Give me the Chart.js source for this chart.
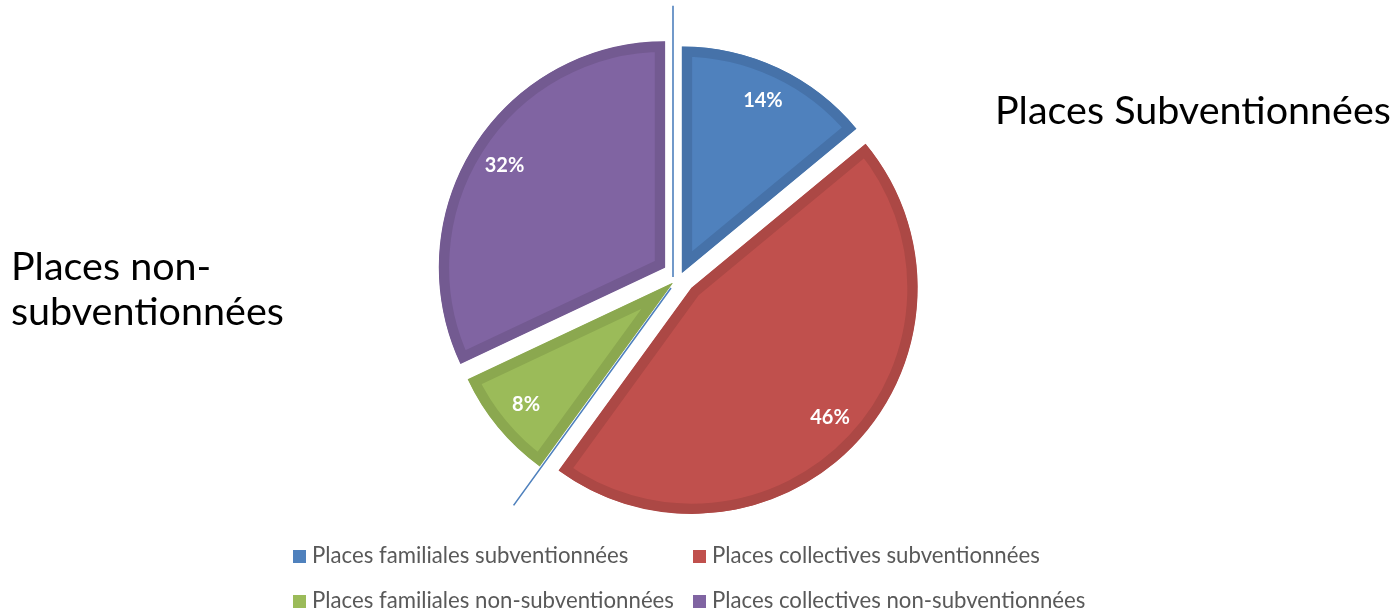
<!DOCTYPE html>
<html>
<head>
<meta charset="utf-8">
<script src="https://cdn.jsdelivr.net/npm/chart.js@4.4.0/dist/chart.umd.min.js"></script>
<style>
    body { margin: 0; background: #fff; font-family: Lato, sans-serif; }
    #wrap { position: relative; width: 1396px; height: 613px; overflow: hidden; }
    #paymentChart { position: absolute; left: 0; top: 0; }
    .side { position: absolute; color: #000; font-size: 39.5px; line-height: 45px; }
    #legend { position: absolute; left: 293px; top: 540px; display: grid; grid-template-columns: 400px 400px; row-gap: 15px; }
    #legend div { font-size: 22.2px; color: #595959; height: 30px; line-height: 30px; white-space: nowrap; }
    #legend span { display: inline-block; width: 13px; height: 13px; margin-right: 6px; vertical-align: 0px; }
</style>
</head>
<body>
<div id="wrap">
    <canvas id="paymentChart" width="1396" height="613"></canvas>
    <div class="side" style="left: 995px; top: 86px;">Places Subventionnées</div>
    <div class="side" style="left: 11px; top: 242px;">Places non-<br>subventionnées</div>
    <div id="legend"></div>
</div>
<script>
var labels = ['Places familiales subventionnées', 'Places collectives subventionnées',
    'Places familiales non-subventionnées', 'Places collectives non-subventionnées'];
var values = [14, 46, 8, 32];
var fillColors = ['#4F81BD', '#C0504D', '#9BBB59', '#8064A2'];
var edgeColors = ['#4672A9', '#AC4845', '#8BA84F', '#735A91'];
var sliceShift = [5, 16, 10, 18]; // how far each slice is pulled out, px

// legend built by hand so the two columns line up
var legendHtml = '';
for (var i = 0; i < labels.length; i++) {
    legendHtml += '<div><span style="background:' + fillColors[i] + '"></span>' + labels[i] + '</div>';
}
document.getElementById('legend').innerHTML = legendHtml;

// pull slices out without chart.js growing their radius (its offset option does)
var explode = {
    id: 'explode',
    afterUpdate: function (chart) {
        var arcs = chart.getDatasetMeta(0).data;
        chart.$pieCenter = { x: arcs[0].x, y: arcs[0].y };
        arcs.forEach(function (arc, i) {
            var mid = (arc.startAngle + arc.endAngle) / 2;
            arc.x += Math.cos(mid) * sliceShift[i];
            arc.y += Math.sin(mid) * sliceShift[i];
        });
    }
};

var percentLabels = {
    id: 'percentLabels',
    afterDatasetsDraw: function (chart) {
        var ctx = chart.ctx;
        var arcs = chart.getDatasetMeta(0).data;
        ctx.save();
        ctx.fillStyle = '#fff';
        ctx.font = 'bold 20px Lato';
        ctx.textAlign = 'center';
        ctx.textBaseline = 'middle';
        arcs.forEach(function (arc, i) {
            var mid = (arc.startAngle + arc.endAngle) / 2;
            var r = arc.outerRadius * 0.84;
            ctx.fillText(values[i] + '%', arc.x + Math.cos(mid) * r, arc.y + Math.sin(mid) * r);
        });
        ctx.restore();
    }
};

// split lines between subsidised and non-subsidised places
var splitLines = {
    id: 'splitLines',
    afterDatasetsDraw: function (chart) {
        var ctx = chart.ctx;
        var arcs = chart.getDatasetMeta(0).data;
        var c = chart.$pieCenter;
        var R = arcs[0].outerRadius;
        var px = c.x - 7, py = c.y + 9;
        var a1 = arcs[0].startAngle, a2 = arcs[1].endAngle;
        ctx.save();
        ctx.strokeStyle = '#4F81BD';
        ctx.lineWidth = 1.6;
        ctx.beginPath();
        ctx.moveTo(px, c.y);
        ctx.lineTo(px + Math.cos(a1) * R * 1.2, c.y + Math.sin(a1) * R * 1.2);
        ctx.moveTo(px - 2, py + 2);
        ctx.lineTo(px + Math.cos(a2) * R * 1.2, py + Math.sin(a2) * R * 1.2);
        ctx.stroke();
        ctx.restore();
    }
};

var ctx = document.getElementById('paymentChart').getContext('2d');
window.pieChart = new Chart(ctx, {
    type: 'pie',
    data: {
        labels: labels,
        datasets: [{
            data: values,
            backgroundColor: fillColors,
            borderColor: edgeColors,
            borderWidth: 10,
            borderAlign: 'inner'
        }]
    },
    options: {
        responsive: false,
        animation: false,
        radius: 226,
        layout: { padding: { left: 380, right: 416, top: 0, bottom: 59 } },
        plugins: {
            legend: { display: false },
            tooltip: { enabled: false }
        }
    },
    plugins: [explode, percentLabels, splitLines]
});
</script>
</body>
</html>
